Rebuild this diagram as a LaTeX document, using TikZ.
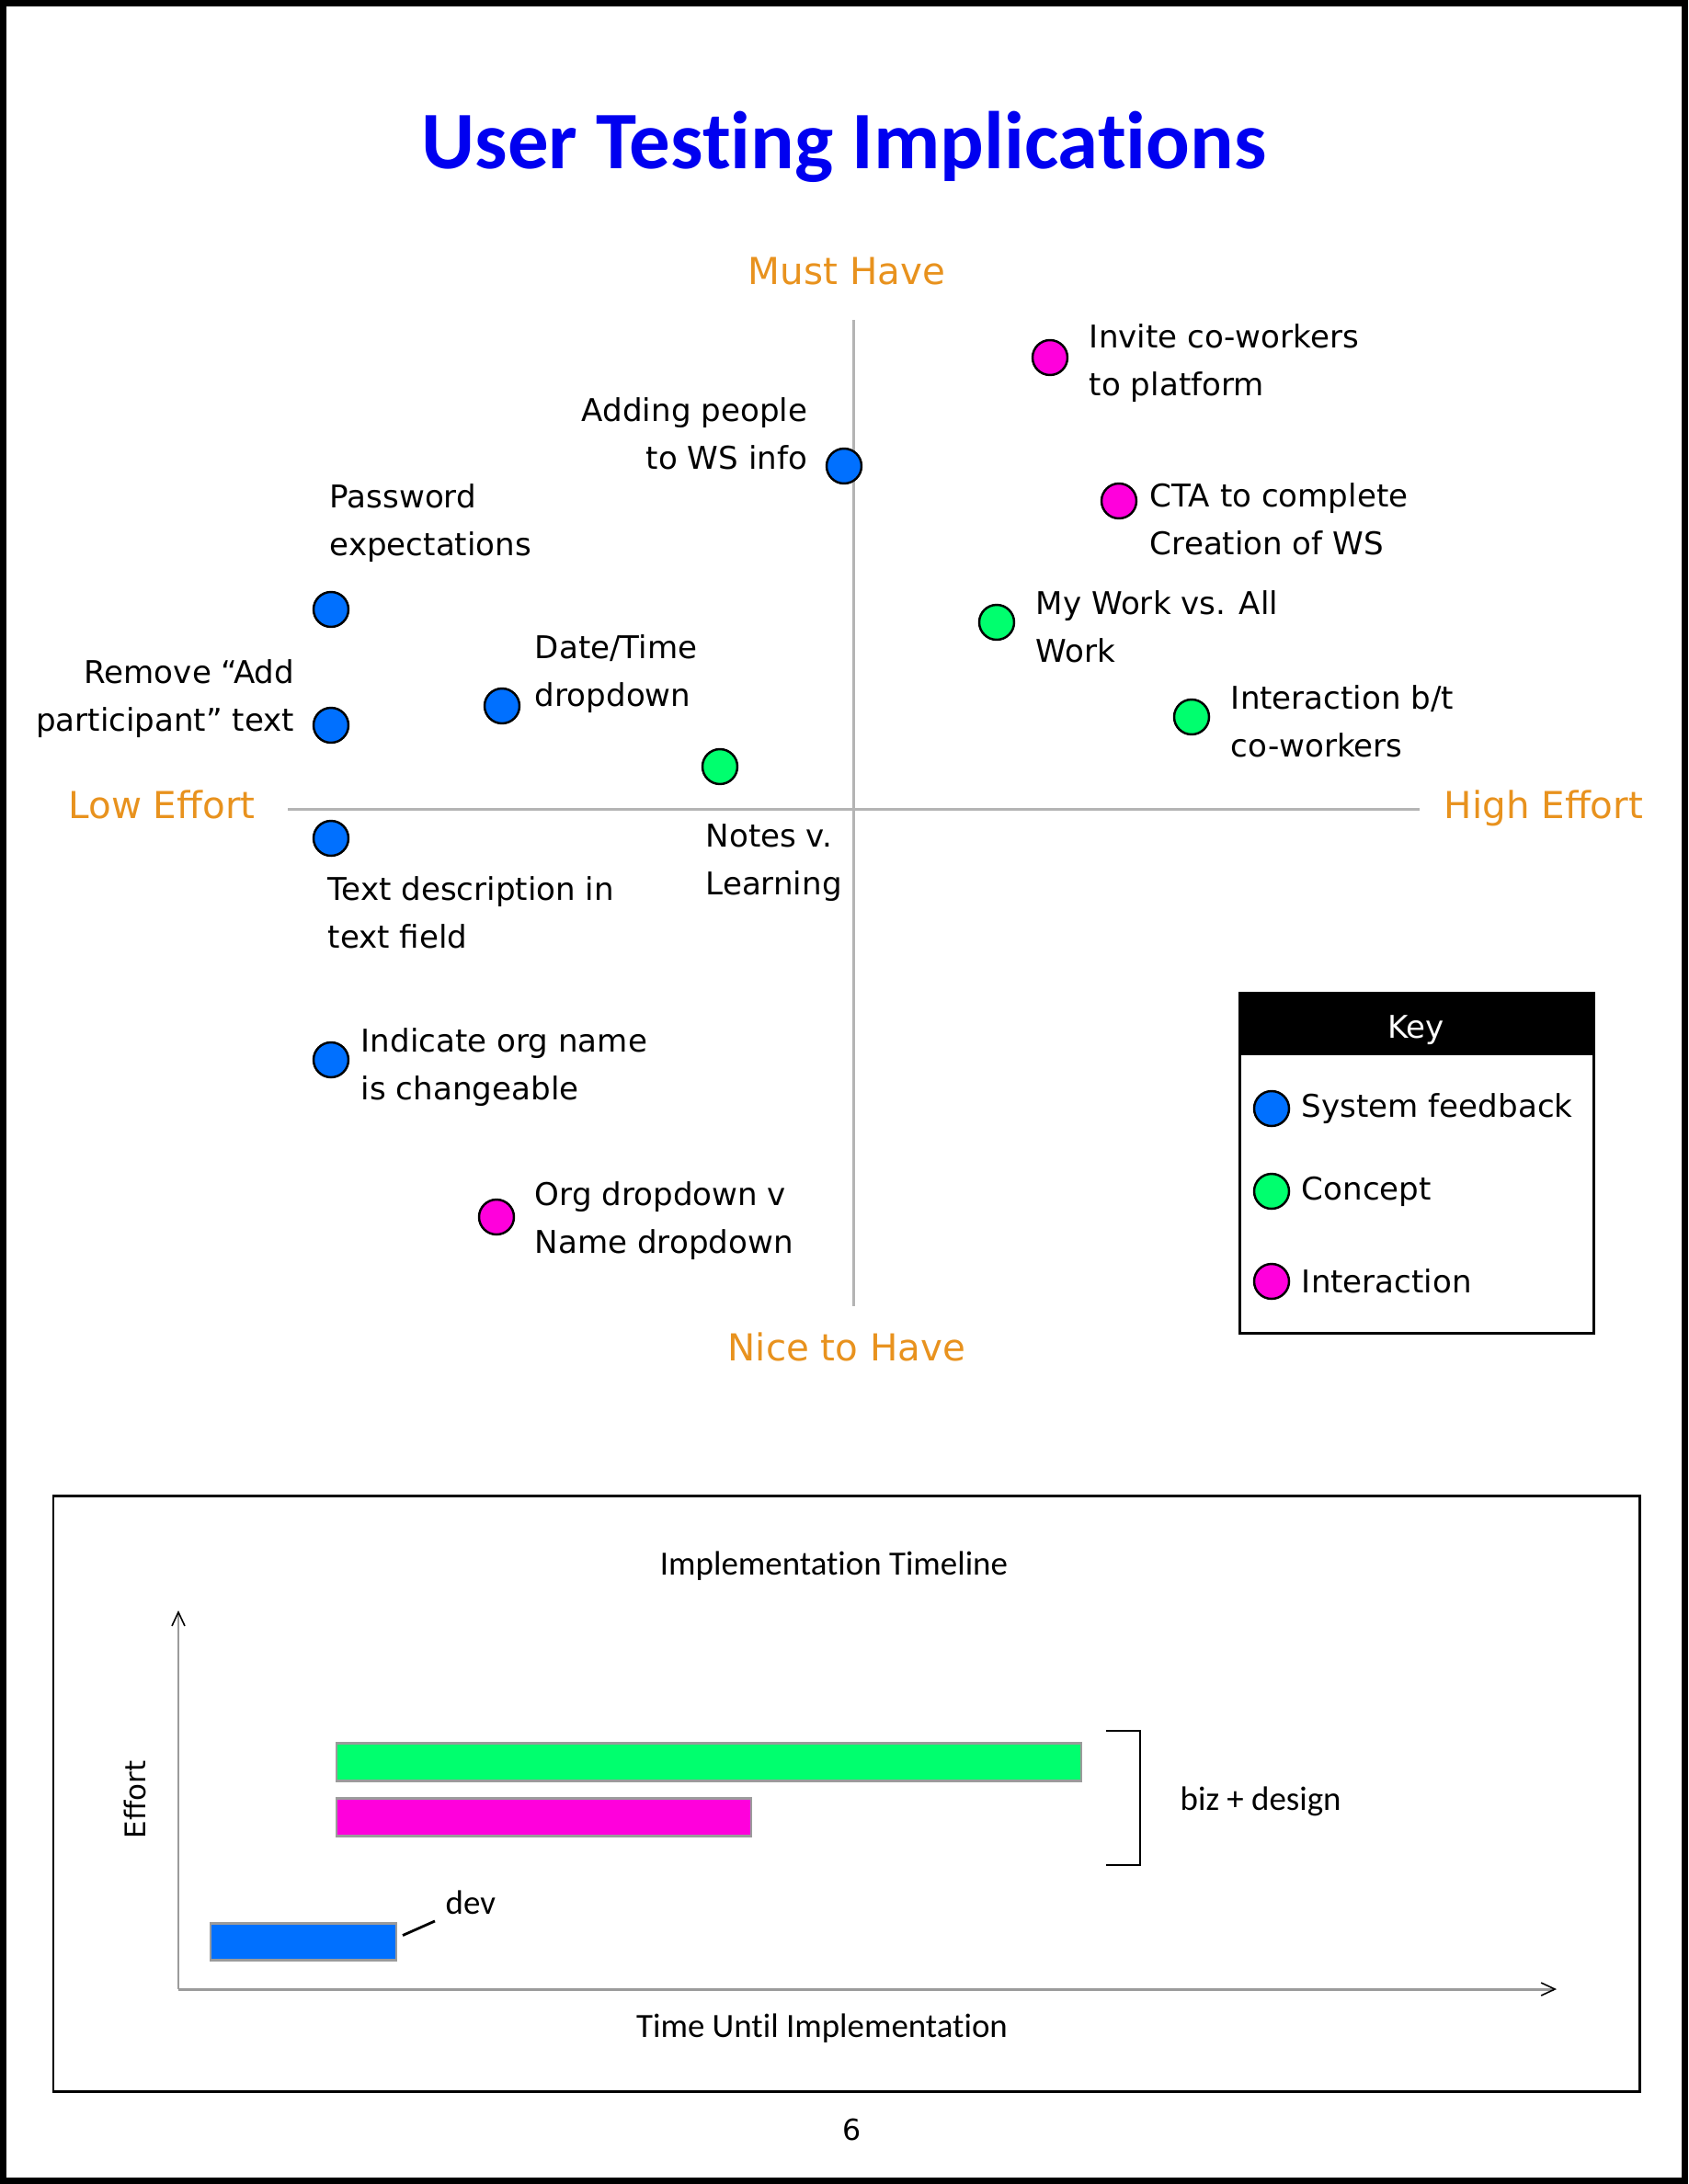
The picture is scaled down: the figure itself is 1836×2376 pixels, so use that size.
\documentclass[tikz,border=0pt]{standalone}
\usepackage{fontspec}
\setmainfont{DejaVu Sans}
\newfontfamily\calfont[Ligatures={NoCommon}]{Carlito}
\usepackage{tikz}
\usetikzlibrary{calc}
\usetikzlibrary{arrows.meta}
\usetikzlibrary{positioning}
\definecolor{sysblue}{RGB}{0,112,255}
\definecolor{conceptgreen}{RGB}{0,255,110}
\definecolor{interpink}{RGB}{255,0,220}
\definecolor{titleblue}{RGB}{0,0,240}
\definecolor{axisorange}{RGB}{232,146,30}
\definecolor{quadgray}{RGB}{180,180,180}
\definecolor{bargray}{RGB}{155,155,155}
\tikzset{lbl/.style={inner sep=0pt,font=\fontsize{9.7}{14.8}\selectfont}}

\begin{document}
\begin{tikzpicture}[x=0.1mm,y=-0.1mm]
  % some styles
  \tikzset{
    dot/.style={
      circle,
      minimum size=3.8mm,
      inner sep=0mm,
      line width=0.7pt,
      draw=black
    }
  }
  \tikzset{sysdot/.style={dot,fill=sysblue}}
  \tikzset{conceptdot/.style={dot,fill=conceptgreen}}
  \tikzset{interdot/.style={dot,fill=interpink}}
  \tikzset{quadlbl/.style={inner sep=0pt,anchor=base,text=axisorange,font=\fontsize{11.5}{14}\selectfont}}
  \tikzset{callbl/.style={inner sep=0pt,font=\calfont\fontsize{10.5}{13}\selectfont}}
  \tikzset{bar/.style={draw=bargray,line width=0.85pt,inner sep=0pt,anchor=north west}}
  \tikzset{chartaxis/.style={draw=bargray,line width=0.85pt,-{Straight Barb[length=1.5mm,width=1.4mm,color=black,line width=0.45pt]}}}

\useasboundingbox (0,0) rectangle (1836,2376);
\draw[line width=2pt] (3.5,3.5) rectangle (1832.5,2372.5);

\node[inner sep=0pt,anchor=base,text=titleblue,font=\calfont\bfseries\fontsize{25.3}{30}\selectfont] (title) at (918,183) {User Testing Implications};

% quadrant axes
\coordinate (qtop) at (928,348);
\coordinate (qbot) at (928,1421);
\coordinate (qleft) at (313,880);
\coordinate (qright) at (1544,880);
\draw[quadgray,line width=0.85pt] (qtop) -- (qbot);
\draw[quadgray,line width=0.85pt] (qleft) -- (qright);
\node[quadlbl] (must) at (921,309) {Must Have};
\node[quadlbl] (nice) at (921,1480) {Nice to Have};
\node[quadlbl] (loweff) at (176,890) {Low Effort};
\node[quadlbl] (higheff) at (1679,890) {High Effort};

% the items
\node[interdot] (invite) at (1142,389) {};
\node[sysdot] (adding) at (918,507) {};
\node[interdot] (cta) at (1217,545) {};
\node[sysdot] (password) at (360,663) {};
\node[conceptdot] (mywork) at (1084,677) {};
\node[sysdot] (datetime) at (546,768) {};
\node[sysdot] (remove) at (360,789) {};
\node[conceptdot] (interact) at (1296,780) {};
\node[conceptdot] (notes) at (783,834) {};
\node[sysdot] (textdesc) at (360,912) {};
\node[sysdot] (orgname) at (360,1153) {};
\node[interdot] (orgdrop) at (540,1324) {};

\node[lbl,align=left,right=2.2mm of invite,yshift=-0.65mm] (invitelbl) {Invite co-workers\\to platform};
\node[lbl,align=right,left=1.9mm of adding,yshift=3.5mm] (addinglbl) {Adding people\\to WS info};
\node[lbl,align=left,right=1.3mm of cta,yshift=-2mm] (ctalbl) {CTA to complete\\Creation of WS};
\node[lbl,align=left,above=3mm of password,anchor=south west,xshift=-0.2mm] (passwordlbl) {Password\\expectations};
\node[lbl,align=left,right=2.2mm of mywork,yshift=-0.45mm] (myworklbl) {My Work vs. All\\Work};
\node[lbl,align=left,right=1.5mm of datetime,yshift=3.45mm] (datetimelbl) {Date/Time\\dropdown};
\node[lbl,align=right,left=1.9mm of remove,yshift=2.9mm] (removelbl) {Remove “Add\\participant” text};
\node[lbl,align=left,right=2.2mm of interact,yshift=-0.45mm] (interactlbl) {Interaction b/t\\co-workers};
\node[lbl,align=left,below=4.2mm of notes,anchor=north west,xshift=-1.6mm] (noteslbl) {Notes v.\\Learning};
\node[lbl,align=left,below=2.1mm of textdesc,anchor=north west,xshift=-0.4mm] (textdesclbl) {Text description in\\text field};
\node[lbl,align=left,right=1.2mm of orgname,yshift=-0.85mm] (orgnamelbl) {Indicate org name\\is changeable};
\node[lbl,align=left,right=2.1mm of orgdrop,yshift=-0.45mm] (orgdroplbl) {Org dropdown v\\Name dropdown};

% key
\draw[line width=0.85pt] (1348,1080) rectangle (1733,1450);
\fill (1348,1080) rectangle (1733,1148);
\node[lbl,text=white,anchor=base] (keytitle) at (1540,1129) {Key};
\foreach \dname/\dstyle/\dy/\dtext in {keysys/sysdot/1206/System feedback,keyconcept/conceptdot/1296/Concept,keyinter/interdot/1394/Interaction} {
  \node[\dstyle] (\dname) at (1383,\dy) {};
  \node[lbl,right=1.2mm of \dname] (\dname lbl) {\dtext};
}

% timeline chart
\draw[line width=0.85pt] (58,1627) rectangle (1783,2275);
\node[callbl] (timeline) at (907,1704) {Implementation Timeline};
\coordinate (origin) at (194,2164);
\coordinate (ytop) at (194,1752);
\coordinate (xend) at (1693,2164);
\draw[chartaxis] (origin) -- (ytop);
\draw[chartaxis] (origin) -- (xend);
\node[inner sep=0pt,rotate=90,font=\fontsize{8.8}{10}\selectfont] (effort) at (147,1958) {Effort};
\node[callbl] (timeuntil) at (894,2207) {Time Until Implementation};
\node[bar,fill=conceptgreen,minimum width=81mm,minimum height=4.1mm] (conceptbar) at (364.5,1894.5) {};
\node[bar,fill=interpink,minimum width=45.1mm,minimum height=4.1mm] (interbar) at (364.5,1954.5) {};
\node[bar,fill=sysblue,minimum width=20.2mm,minimum height=4mm] (sysbar) at (227.5,2090.5) {};
\draw[line width=0.7pt] (1203,1883) -| (1240,2029) -- (1203,2029);
\node[callbl,anchor=west] (bizdesign) at (1283,1960) {biz + design};
\node[callbl,anchor=base west] (devlbl) at (484,2082) {dev};
\draw[line width=0.8pt] ([shift={(5.5,-6.5)}]sysbar.east) -- ([shift={(-11,7)}]devlbl.south west);
\node[inner sep=0pt,font=\fontsize{9}{11}\selectfont] (pagenum) at (927,2317) {6};
\end{tikzpicture}
\end{document}
